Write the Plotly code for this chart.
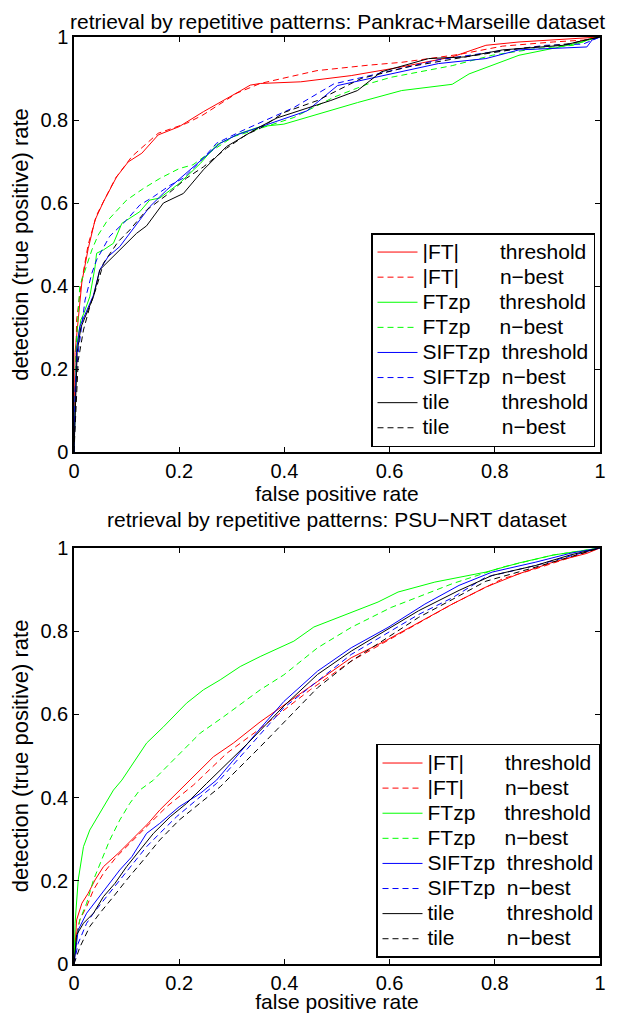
import plotly.graph_objects as go

# ---------------- data: top plot (Pankrac+Marseille) ----------------
top_ft_thr_x = [0, 0.002, 0.015, 0.027, 0.04, 0.056, 0.081, 0.103, 0.129, 0.16, 0.2, 0.246, 0.316, 0.335, 0.354, 0.431, 0.527, 0.623, 0.719, 0.783, 0.846, 0.943, 1]
top_ft_thr_y = [0, 0.24, 0.41, 0.49, 0.559, 0.603, 0.663, 0.699, 0.72, 0.764, 0.784, 0.82, 0.87, 0.884, 0.888, 0.892, 0.907, 0.928, 0.952, 0.98, 0.988, 0.996, 1]
top_ft_nb_x = [0, 0.005, 0.013, 0.027, 0.043, 0.079, 0.11, 0.135, 0.16, 0.214, 0.245, 0.31, 0.354, 0.392, 0.462, 0.559, 0.623, 0.732, 0.815, 0.911, 0.975, 1]
top_ft_nb_y = [0, 0.318, 0.40, 0.5, 0.571, 0.66, 0.712, 0.74, 0.768, 0.792, 0.812, 0.865, 0.888, 0.899, 0.919, 0.932, 0.939, 0.958, 0.978, 0.988, 0.993, 1]
top_ftzp_thr_x = [0, 0.005, 0.013, 0.019, 0.03, 0.04, 0.043, 0.056, 0.075, 0.091, 0.125, 0.144, 0.163, 0.2, 0.24, 0.271, 0.316, 0.354, 0.399, 0.539, 0.623, 0.719, 0.751, 0.808, 0.846, 0.924, 0.968, 0.98, 1]
top_ftzp_thr_y = [0, 0.254, 0.318, 0.335, 0.374, 0.446, 0.479, 0.487, 0.503, 0.551, 0.579, 0.607, 0.612, 0.647, 0.695, 0.74, 0.768, 0.784, 0.79, 0.842, 0.871, 0.886, 0.911, 0.939, 0.956, 0.976, 0.988, 0.995, 1]
top_ftzp_nb_x = [0, 0.004, 0.011, 0.021, 0.034, 0.046, 0.062, 0.1, 0.132, 0.163, 0.2, 0.226, 0.265, 0.303, 0.335, 0.418, 0.494, 0.559, 0.603, 0.719, 0.795, 0.878, 0.949, 0.97, 1]
top_ftzp_nb_y = [0, 0.25, 0.4, 0.439, 0.487, 0.523, 0.555, 0.607, 0.635, 0.659, 0.683, 0.692, 0.728, 0.76, 0.772, 0.806, 0.855, 0.887, 0.903, 0.931, 0.956, 0.972, 0.98, 0.99, 1]
top_sift_thr_x = [0, 0.005, 0.011, 0.024, 0.037, 0.049, 0.065, 0.087, 0.113, 0.144, 0.176, 0.214, 0.246, 0.278, 0.309, 0.335, 0.443, 0.501, 0.571, 0.693, 0.783, 0.846, 0.975, 0.985, 1]
top_sift_thr_y = [0, 0.246, 0.302, 0.342, 0.378, 0.439, 0.471, 0.495, 0.54, 0.591, 0.631, 0.672, 0.708, 0.744, 0.764, 0.775, 0.822, 0.883, 0.903, 0.936, 0.948, 0.969, 0.976, 0.993, 1]
top_sift_nb_x = [0, 0.002, 0.008, 0.021, 0.034, 0.043, 0.068, 0.1, 0.125, 0.151, 0.183, 0.208, 0.24, 0.271, 0.316, 0.344, 0.418, 0.494, 0.578, 0.693, 0.795, 0.897, 0.968, 1]
top_sift_nb_y = [0, 0.15, 0.24, 0.366, 0.431, 0.463, 0.52, 0.559, 0.595, 0.615, 0.643, 0.66, 0.7, 0.744, 0.772, 0.788, 0.83, 0.887, 0.911, 0.945, 0.964, 0.98, 0.983, 1]
top_tile_thr_x = [0, 0.006, 0.013, 0.024, 0.037, 0.049, 0.068, 0.087, 0.119, 0.138, 0.17, 0.208, 0.246, 0.29, 0.328, 0.354, 0.386, 0.488, 0.539, 0.584, 0.674, 0.744, 0.815, 0.93, 0.98, 1]
top_tile_thr_y = [0, 0.24, 0.3, 0.335, 0.374, 0.439, 0.463, 0.487, 0.527, 0.545, 0.6, 0.623, 0.68, 0.736, 0.764, 0.784, 0.805, 0.847, 0.871, 0.916, 0.948, 0.952, 0.969, 0.98, 0.995, 1]
top_tile_nb_x = [0, 0.005, 0.008, 0.018, 0.03, 0.043, 0.056, 0.084, 0.106, 0.138, 0.176, 0.214, 0.246, 0.29, 0.328, 0.354, 0.399, 0.463, 0.546, 0.635, 0.744, 0.846, 0.943, 0.97, 1]
top_tile_nb_y = [0, 0.142, 0.22, 0.294, 0.35, 0.398, 0.455, 0.507, 0.535, 0.583, 0.619, 0.66, 0.687, 0.732, 0.765, 0.78, 0.818, 0.847, 0.9, 0.928, 0.952, 0.972, 0.984, 0.992, 1]

# ---------------- data: bottom plot (PSU-NRT) ----------------
bot_ft_thr_x = [0, 0.005, 0.015, 0.027, 0.04, 0.056, 0.084, 0.113, 0.141, 0.163, 0.195, 0.22, 0.265, 0.303, 0.354, 0.463, 0.527, 0.591, 0.655, 0.719, 0.783, 0.846, 0.911, 0.975, 1]
bot_ft_thr_y = [0, 0.106, 0.146, 0.17, 0.202, 0.234, 0.266, 0.302, 0.338, 0.37, 0.41, 0.442, 0.498, 0.531, 0.582, 0.679, 0.736, 0.776, 0.821, 0.865, 0.906, 0.938, 0.966, 0.987, 1]
bot_ft_nb_x = [0, 0.002, 0.011, 0.024, 0.037, 0.056, 0.081, 0.113, 0.144, 0.176, 0.227, 0.29, 0.354, 0.45, 0.527, 0.623, 0.719, 0.815, 0.878, 0.975, 1]
bot_ft_nb_y = [0, 0.056, 0.106, 0.138, 0.178, 0.218, 0.258, 0.298, 0.338, 0.378, 0.43, 0.506, 0.566, 0.66, 0.728, 0.797, 0.865, 0.926, 0.95, 0.99, 1]
bot_ftzp_thr_x = [0, 0.002, 0.008, 0.018, 0.03, 0.049, 0.075, 0.091, 0.138, 0.17, 0.214, 0.246, 0.278, 0.316, 0.354, 0.418, 0.456, 0.578, 0.616, 0.686, 0.783, 0.846, 0.911, 0.975, 1]
bot_ftzp_thr_y = [0, 0.098, 0.202, 0.282, 0.322, 0.362, 0.418, 0.442, 0.531, 0.57, 0.627, 0.659, 0.683, 0.715, 0.739, 0.776, 0.81, 0.87, 0.894, 0.918, 0.942, 0.964, 0.983, 0.995, 1]
bot_ftzp_nb_x = [0, 0.002, 0.011, 0.024, 0.037, 0.053, 0.068, 0.087, 0.106, 0.125, 0.151, 0.195, 0.24, 0.284, 0.328, 0.354, 0.399, 0.463, 0.527, 0.603, 0.719, 0.815, 0.911, 1]
bot_ftzp_nb_y = [0, 0.04, 0.106, 0.146, 0.202, 0.25, 0.298, 0.346, 0.386, 0.418, 0.442, 0.498, 0.555, 0.594, 0.635, 0.659, 0.695, 0.76, 0.809, 0.857, 0.914, 0.954, 0.983, 1]
bot_sift_thr_x = [0, 0.008, 0.024, 0.043, 0.062, 0.087, 0.11, 0.138, 0.163, 0.2, 0.24, 0.271, 0.354, 0.399, 0.463, 0.527, 0.597, 0.667, 0.732, 0.795, 0.878, 0.943, 1]
bot_sift_thr_y = [0, 0.082, 0.122, 0.154, 0.186, 0.226, 0.258, 0.314, 0.338, 0.378, 0.41, 0.442, 0.566, 0.631, 0.704, 0.76, 0.809, 0.865, 0.91, 0.942, 0.966, 0.987, 1]
bot_sift_nb_x = [0, 0.008, 0.024, 0.037, 0.062, 0.087, 0.113, 0.138, 0.163, 0.195, 0.24, 0.271, 0.399, 0.463, 0.527, 0.591, 0.655, 0.719, 0.783, 0.878, 0.975, 1]
bot_sift_nb_y = [0, 0.05, 0.098, 0.122, 0.162, 0.202, 0.242, 0.282, 0.314, 0.354, 0.402, 0.434, 0.616, 0.68, 0.744, 0.792, 0.84, 0.88, 0.93, 0.958, 0.99, 1]
bot_tile_thr_x = [0, 0.005, 0.018, 0.037, 0.056, 0.078, 0.1, 0.125, 0.151, 0.183, 0.214, 0.252, 0.33, 0.399, 0.463, 0.527, 0.591, 0.655, 0.732, 0.795, 0.878, 0.943, 1]
bot_tile_thr_y = [0, 0.07, 0.098, 0.122, 0.162, 0.194, 0.234, 0.274, 0.314, 0.354, 0.386, 0.434, 0.53, 0.62, 0.696, 0.752, 0.8, 0.849, 0.898, 0.934, 0.958, 0.983, 1]
bot_tile_nb_x = [0, 0.011, 0.03, 0.049, 0.075, 0.1, 0.132, 0.163, 0.2, 0.24, 0.278, 0.354, 0.463, 0.527, 0.591, 0.655, 0.719, 0.783, 0.878, 0.975, 1]
bot_tile_nb_y = [0, 0.04, 0.09, 0.122, 0.162, 0.202, 0.25, 0.298, 0.346, 0.386, 0.426, 0.522, 0.664, 0.728, 0.78, 0.833, 0.876, 0.92, 0.954, 0.99, 1]

method_labels = ["|FT|", "|FT|", "FTzp", "FTzp", "SIFTzp", "SIFTzp", "tile", "tile"]
mode_labels = ["threshold", "n\u2212best"] * 4
label_pad = [7, 7, 5, 5, 2, 2, 9, 9]
colors = ["#ff0000", "#ff0000", "#00ff00", "#00ff00", "#0000ff", "#0000ff", "#000000", "#000000"]
dashes = ["solid", "6px,4px"] * 4

titles = ["retrieval by repetitive patterns: Pankrac+Marseille dataset",
          "retrieval by repetitive patterns: PSU\u2212NRT dataset"]
x_title = "false positive rate"
y_title = "detection (true positive) rate"
tick_vals = [0, 0.2, 0.4, 0.6, 0.8, 1]
tick_text = ["0", "0.2", "0.4", "0.6", "0.8", "1"]

top_series = [(top_ft_thr_x, top_ft_thr_y), (top_ft_nb_x, top_ft_nb_y),
              (top_ftzp_thr_x, top_ftzp_thr_y), (top_ftzp_nb_x, top_ftzp_nb_y),
              (top_sift_thr_x, top_sift_thr_y), (top_sift_nb_x, top_sift_nb_y),
              (top_tile_thr_x, top_tile_thr_y), (top_tile_nb_x, top_tile_nb_y)]
bot_series = [(bot_ft_thr_x, bot_ft_thr_y), (bot_ft_nb_x, bot_ft_nb_y),
              (bot_ftzp_thr_x, bot_ftzp_thr_y), (bot_ftzp_nb_x, bot_ftzp_nb_y),
              (bot_sift_thr_x, bot_sift_thr_y), (bot_sift_nb_x, bot_sift_nb_y),
              (bot_tile_thr_x, bot_tile_thr_y), (bot_tile_nb_x, bot_tile_nb_y)]

FONT = "Liberation Sans, Arial, Helvetica, sans-serif"
NB = "\u00a0"

fig = go.Figure()


def label(i):
    return ('<span style="font-size:21px">' + method_labels[i] + NB * label_pad[i]
            + mode_labels[i] + '</span>')


for i, (xs, ys) in enumerate(top_series):
    fig.add_trace(go.Scatter(x=xs, y=ys, mode="lines", name=label(i),
                             line=dict(color=colors[i], width=1, dash=dashes[i]),
                             xaxis="x", yaxis="y", legend="legend"))
for i, (xs, ys) in enumerate(bot_series):
    fig.add_trace(go.Scatter(x=xs, y=ys, mode="lines", name=label(i),
                             line=dict(color=colors[i], width=1, dash=dashes[i]),
                             xaxis="x2", yaxis="y2", legend="legend2"))

axis_common = dict(range=[0, 1], tickvals=tick_vals, ticktext=tick_text,
                   showgrid=False, zeroline=False, showline=True, linecolor="black",
                   linewidth=1.5, mirror="ticks", ticks="inside", ticklen=5,
                   tickcolor="black", tickwidth=1, automargin=False,
                   tickfont=dict(family=FONT, size=20, color="black"))

# the page body adds an 8px offset, so the figure is sized 8px smaller
fig.update_layout(
    width=622, height=1005,
    margin=dict(l=66, r=30, t=29, b=49),
    paper_bgcolor="white", plot_bgcolor="white",
    font=dict(family=FONT, color="black"),
    xaxis=dict(domain=[0, 1], anchor="y",
               title=dict(text=x_title, font=dict(size=21), standoff=4), **axis_common),
    yaxis=dict(domain=[0.5523, 1], anchor="x",
               title=dict(text=y_title, font=dict(size=22), standoff=8), **axis_common),
    xaxis2=dict(domain=[0, 1], anchor="y2",
                title=dict(text=x_title, font=dict(size=21), standoff=4), **axis_common),
    yaxis2=dict(domain=[0, 0.4488], anchor="x2",
                title=dict(text=y_title, font=dict(size=22), standoff=8), **axis_common),
    legend=dict(x=0.9905, y=0.5577, xanchor="right", yanchor="bottom",
                bgcolor="white", bordercolor="black", borderwidth=1.5,
                font=dict(family=FONT, size=17, color="black"), itemwidth=40,
                tracegroupgap=0),
    legend2=dict(x=1.0, y=0.0065, xanchor="right", yanchor="bottom",
                 bgcolor="white", bordercolor="black", borderwidth=1.5,
                 font=dict(family=FONT, size=17, color="black"), itemwidth=40,
                 tracegroupgap=0),
    annotations=[
        dict(text=titles[0], xref="paper", yref="paper", x=0.5, y=1.0313,
             xanchor="center", yanchor="top", showarrow=False,
             font=dict(family=FONT, size=21, color="black")),
        dict(text=titles[1], xref="paper", yref="paper", x=0.5, y=0.479,
             xanchor="center", yanchor="middle", showarrow=False,
             font=dict(family=FONT, size=21, color="black")),
    ],
    showlegend=True,
)

fig.write_html("out.html")
